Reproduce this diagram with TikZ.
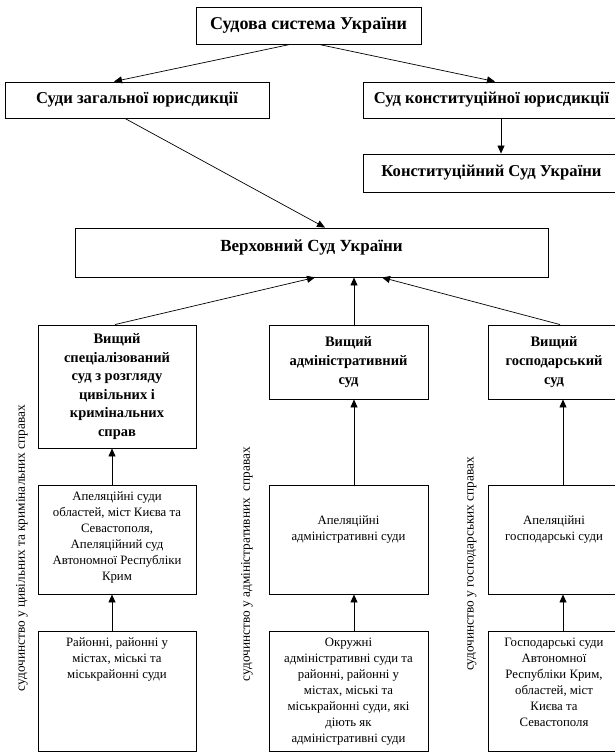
\documentclass[tikz,border=0pt]{standalone}
\usepackage{fontspec}
\setmainfont{Liberation Serif}
\usetikzlibrary{arrows.meta,positioning}

\begin{document}
\begin{tikzpicture}[x=1pt, y=-1pt,
	box/.style={draw, line width=0.9pt, inner sep=0pt},
	head/.style={font=\fontsize{16.6}{19}\selectfont\bfseries, align=center},
	high/.style={font=\fontsize{14.5}{18.6}\selectfont\bfseries, align=center},
	txt/.style={font=\fontsize{12.8}{16}\selectfont, align=center, inner sep=0pt},
	side/.style={font=\fontsize{13.3}{16}\selectfont, rotate=90, inner sep=0pt},
	arr/.style={-{Triangle[length=8pt,width=7pt]}, line width=0.7pt}]

	\useasboundingbox (0,0) rectangle (614,752);

	% 1. Верхній рівень
	\node[box, head, font=\fontsize{18}{21}\selectfont\bfseries, minimum width=225pt, minimum height=37pt] (sys) at (308.5,25.5) {Судова система України};
	\node[box, head, minimum width=264pt, minimum height=36pt] (gen) at (137,100) {Суди загальної юрисдикції};
	\node[box, head, minimum width=257pt, minimum height=36pt] (cjur) at (491.5,100) {Суд конституційної юрисдикції};
	\node[box, head, minimum width=257pt, minimum height=38pt] (cs) at (491.5,173) {Конституційний Суд України};

	% 2. Верховний Суд (текст вище центру)
	\node[box, minimum width=473pt, minimum height=49pt] (sup) at (311.5,252.5) {};
	\node[head, font=\fontsize{17}{20}\selectfont\bfseries] (supt) at ([yshift=5.5pt]sup.center) {Верховний Суд України};

	% 3. Вищі суди
	\node[box, high, minimum width=158pt, minimum height=123pt] (hc1) at (117,386.5)
		{Вищий\\спеціалізований\\суд з розгляду\\цивільних і\\кримінальних\\справ};
	\node[box, high, minimum width=159pt, minimum height=74pt] (hc2) at (348.5,362)
		{Вищий\\адміністративний\\суд};
	\node[box, high, minimum width=132pt, minimum height=74pt] (hc3) at (554,362)
		{Вищий\\господарський\\суд};

	% 4. Апеляційні суди
	\node[box, minimum width=158pt, minimum height=109pt] (ap1) at (117,539.5) {};
	\node[box, minimum width=159pt, minimum height=109pt] (ap2) at (348.5,539.5) {};
	\node[box, minimum width=132pt, minimum height=109pt] (ap3) at (554,539.5) {};
	\node[txt, below=7pt of ap1.north] (ap1t)
		{Апеляційні суди\\областей, міст Києва та\\Севастополя,\\Апеляційний суд\\Автономної Республіки\\Крим};
	\node[txt, below=31pt of ap2.north] (ap2t) {Апеляційні\\адміністративні суди};
	\node[txt, below=31pt of ap3.north] (ap3t) {Апеляційні\\господарські суди};

	% 5. Місцеві суди
	\node[box, minimum width=158pt, minimum height=120pt] (lo1) at (117,691) {};
	\node[box, minimum width=159pt, minimum height=120pt] (lo2) at (348.5,691) {};
	\node[box, minimum width=132pt, minimum height=120pt] (lo3) at (554,691) {};
	\node[txt, below=7pt of lo1.north] (lo1t)
		{Районні, районні у\\містах, міські та\\міськрайонні суди};
	\node[txt, below=7pt of lo2.north] (lo2t)
		{Окружні\\адміністративні суди та\\районні, районні у\\містах, міські та\\міськрайонні суди, які\\діють як\\адміністративні суди};
	\node[txt, below=7pt of lo3.north] (lo3t)
		{Господарські суди\\Автономної\\Республіки Крим,\\областей, міст\\Києва та\\Севастополя};

	% 6. Підписи вертикальні
	\node[side] (s1) at (22,548) {судочинство у цивільних та кримінальних справах};
	\node[side] (s2) at (247,564) {судочинство у адміністративних~ справах};
	\node[side] (s3) at (472,564) {судочинство у господарських справах};

	% 7. Стрілки
	\draw[arr] ([xshift=-18.5pt]sys.south) -- ([xshift=-23pt]gen.north);
	\draw[arr] ([xshift=10.5pt]sys.south) -- ([xshift=3.5pt]cjur.north);
	\draw[arr] ([xshift=9.5pt]cjur.south) -- ([xshift=9.5pt]cs.north);
	\draw[arr] ([xshift=-12pt]gen.south) -- ([xshift=13.5pt]sup.north);
	\draw[arr] ([xshift=-2pt]hc1.north) -- ([xshift=3.5pt]sup.south);
	\draw[arr] ([xshift=5.5pt]hc2.north) -- ([xshift=42.5pt]sup.south);
	\draw[arr] ([xshift=6pt]hc3.north) -- ([xshift=70.5pt]sup.south);
	\foreach \c/\s in {1/-5,2/5.5,3/9} {
		\draw[arr] ([xshift=\s pt]ap\c.north) -- ([xshift=\s pt]hc\c.south);
		\draw[arr] ([xshift=\s pt]lo\c.north) -- ([xshift=\s pt]ap\c.south);
	}
\end{tikzpicture}
\end{document}
